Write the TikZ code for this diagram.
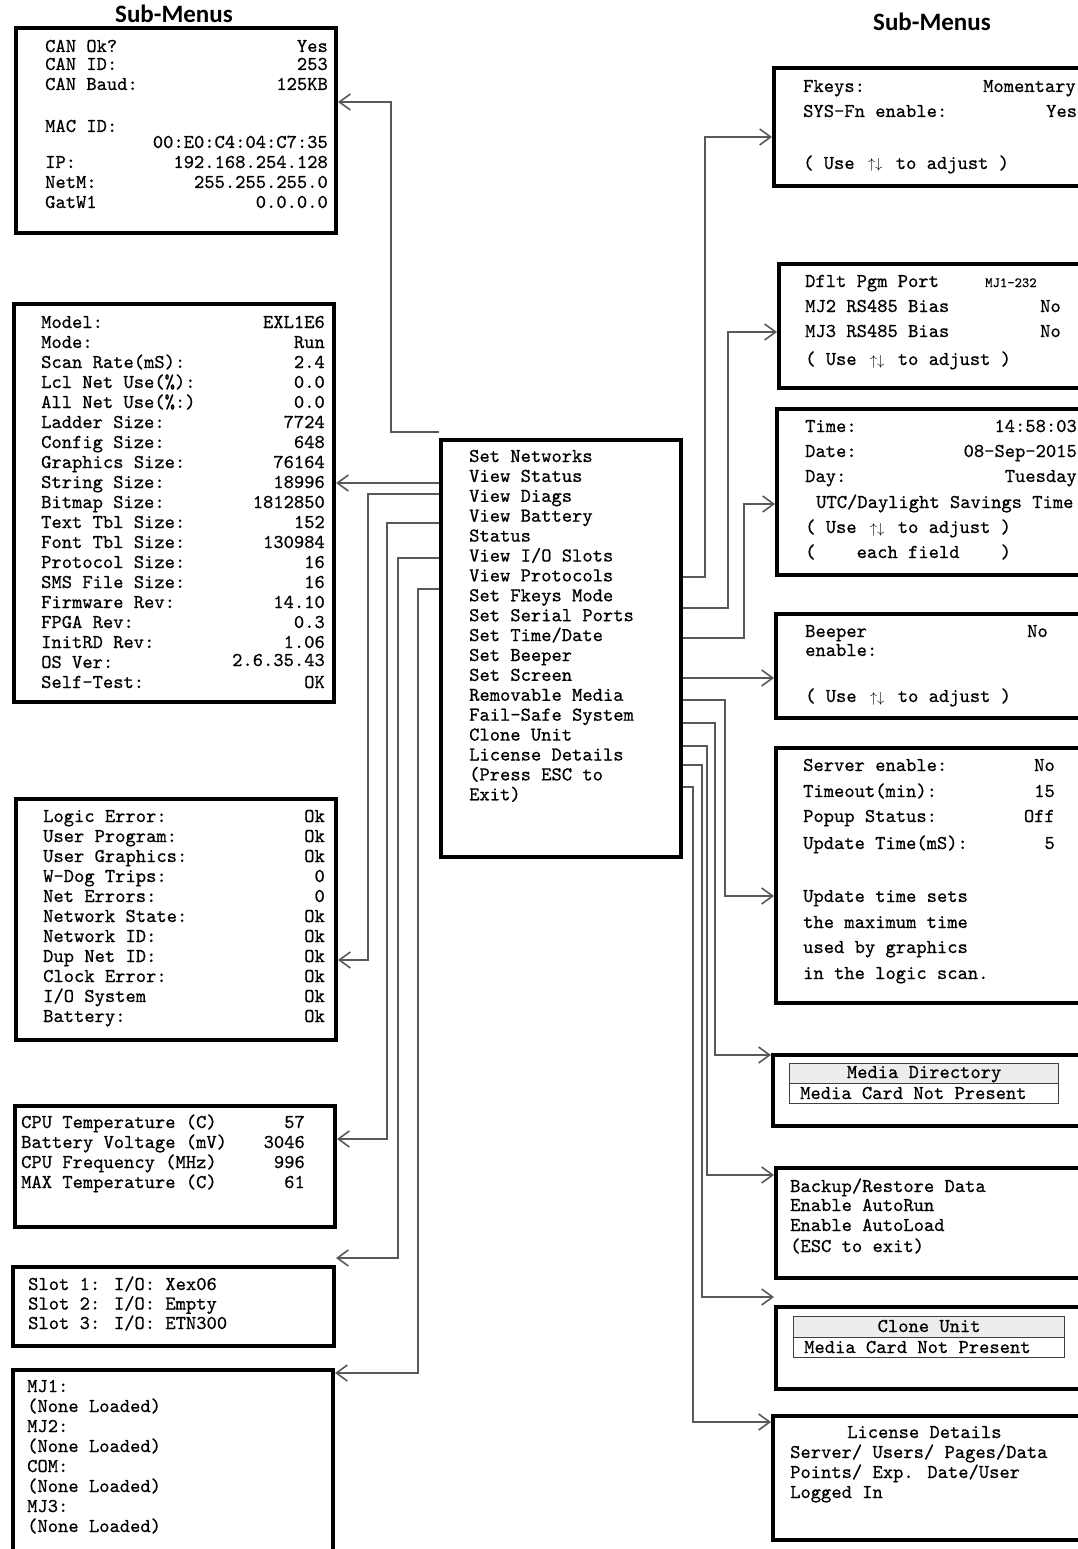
\documentclass[tikz,border=0pt]{standalone}
\usepackage{fontspec}
\usetikzlibrary{arrows.meta}

\newfontfamily\titlefont{Carlito}
\newfontfamily\monofam{lmmono10-regular.otf}[FakeBold=0.6]
\newcommand{\mono}{\monofam\fontsize{19.6}{20}\selectfont}
\newcommand{\updn}{\makebox[1.05em]{\fontsize{15}{15}\selectfont$\uparrow\downarrow$}}

\begin{document}
\begin{tikzpicture}[x=1pt,y=-1pt,
  box/.style={draw, line width=4pt, inner sep=0pt, anchor=north west},
  tbl/.style={draw=black!75, line width=1.2pt, inner sep=0pt, anchor=north west},
  txt/.style={font=\mono, inner sep=0pt, anchor=base west},
  val/.style={font=\mono, inner sep=0pt, anchor=base east},
  title/.style={font=\titlefont\bfseries\fontsize{25}{25}\selectfont, inner sep=0pt, anchor=base},
  conn/.style={draw=black!65, line width=1.6pt, -{Straight Barb[length=11pt,width=16pt]}}]

  \useasboundingbox (0,0) rectangle (1078,1549);
  \clip (0,0) rectangle (1078,1549);

  % titles
  \node[title] (titleL) at (174,23) {Sub-Menus};
  \node[title] (titleR) at (932,31) {Sub-Menus};

  % left sub-menus
  \node[box, minimum width=320, minimum height=205] (canbox) at (14,26) {};
  \node[box, minimum width=320, minimum height=398] (statbox) at (12,302) {};
  \node[box, minimum width=320, minimum height=241] (diagbox) at (14,797) {};
  \node[box, minimum width=320, minimum height=121] (battbox) at (13,1104) {};
  \node[box, minimum width=321, minimum height=79] (slotbox) at (11,1265) {};
  \node[box, minimum width=320, minimum height=200] (protbox) at (11,1368) {};

  % main menu
  \node[box, minimum width=240, minimum height=417] (menu) at (439,438) {};

  % right sub-menus
  \node[box, minimum width=330, minimum height=118] (fkeybox) at (772,66) {};
  \node[box, minimum width=325, minimum height=124] (serbox) at (777,262) {};
  \node[box, minimum width=327, minimum height=166] (timebox) at (775,407) {};
  \node[box, minimum width=326, minimum height=104] (beepbox) at (774,612) {};
  \node[box, minimum width=326, minimum height=255] (scrbox) at (774,746) {};
  \node[box, minimum width=329, minimum height=71] (mediabox) at (771,1053) {};
  \node[box, minimum width=326, minimum height=110] (failbox) at (774,1166) {};
  \node[box, minimum width=326, minimum height=82] (clonebox) at (774,1305) {};
  \node[box, minimum width=329, minimum height=124] (licbox) at (771,1414) {};

  % network settings
  \foreach \lab/\val/\y [count=\i] in {CAN Ok?/Yes/52, CAN ID:/253/70, CAN Baud:/125KB/90,
      MAC ID://132, /00:E0:C4:04:C7:35/148, IP:/192.168.254.128/168,
      NetM:/255.255.255.0/188, GatW1/0.0.0.0/208}
  {
    \node[txt] (can-l\i) at (45,\y) {\lab};
    \node[val] (can-v\i) at (328,\y) {\val};
  }

  % status
  \foreach \lab/\val [count=\i] in {Model:/EXL1E6, Mode:/Run, Scan Rate(mS):/2.4,
      Lcl Net Use(\%):/0.0, All Net Use(\%:)/0.0, Ladder Size:/7724, Config Size:/648,
      Graphics Size:/76164, String Size:/18996, Bitmap Size:/1812850, Text Tbl Size:/152,
      Font Tbl Size:/130984, Protocol Size:/16, SMS File Size:/16, Firmware Rev:/14.10,
      FPGA Rev:/0.3, InitRD Rev:/1.06, OS Ver:/, Self-Test:/OK}
  {
    \node[txt] (stat-l\i) at (41,{308+20*\i}) {\lab};
    \node[val] (stat-v\i) at (325,{308+20*\i}) {\val};
  }
  \node[val] (osver) at (325,666) {2.6.35.43};

  % diagnostics
  \foreach \lab/\val [count=\i] in {Logic Error:/Ok, User Program:/Ok, User Graphics:/Ok,
      W-Dog Trips:/0, Net Errors:/0, Network State:/Ok, Network ID:/Ok, Dup Net ID:/Ok,
      Clock Error:/Ok, {I/O System}/Ok, Battery:/Ok}
  {
    \node[txt] (diag-l\i) at (43,{802+20*\i}) {\lab};
    \node[val] (diag-v\i) at (325,{802+20*\i}) {\val};
  }

  % battery
  \foreach \lab/\val [count=\i] in {CPU Temperature (C)/57, Battery Voltage (mV)/3046,
      CPU Frequency (MHz)/996, MAX Temperature (C)/61}
  {
    \node[txt] (batt-l\i) at (21,{1108+20*\i}) {\lab};
    \node[val] (batt-v\i) at (305,{1108+20*\i}) {\val};
  }

  % i/o slots
  \foreach \lab [count=\i] in {{Slot 1: I/O: Xex06}, {Slot 2: I/O: Empty}, {Slot 3: I/O: ETN300}}
    \node[txt] (slot-\i) at (28,{1270.5+19.5*\i}) {\lab};

  % protocols
  \foreach \lab [count=\i] in {MJ1:, {(None Loaded)}, MJ2:, {(None Loaded)}, COM:,
      {(None Loaded)}, MJ3:, {(None Loaded)}}
    \node[txt] (prot-\i) at (27,{1372+20*\i}) {\lab};

  % main menu items
  \foreach \lab [count=\i] in {Set Networks, View Status, View Diags, View Battery, Status,
      {View I/O Slots}, View Protocols, Set Fkeys Mode, Set Serial Ports, {Set Time/Date},
      Set Beeper, Set Screen, Removable Media, Fail-Safe System, Clone Unit,
      License Details, {(Press ESC to}, {Exit)}}
    \node[txt] (item-\i) at (469,{442.1+19.9*\i}) {\lab};

  % fkeys
  \node[txt] (fk-l1) at (803,92) {Fkeys:};
  \node[txt] (fk-v1) at (983,92) {Momentary};
  \node[txt] (fk-l2) at (803,117) {SYS-Fn enable:};
  \node[txt] (fk-v2) at (1046,117) {Yes};
  \node[txt] (fk-adj) at (803,169) {( Use \updn{} to adjust )};

  % serial ports
  \node[txt] (ser-l1) at (805,287) {Dflt Pgm Port};
  \node[txt, font=\monofam\fontsize{14}{14}\selectfont] (ser-v1) at (985,287) {MJ1-232};
  \node[txt] (ser-l2) at (805,312) {MJ2 RS485 Bias};
  \node[txt] (ser-v2) at (1040,312) {No};
  \node[txt] (ser-l3) at (805,337) {MJ3 RS485 Bias};
  \node[txt] (ser-v3) at (1040,337) {No};
  \node[txt] (ser-adj) at (805,365) {( Use \updn{} to adjust )};

  % time/date
  \node[txt] (time-l1) at (805,432) {Time:};
  \node[val] (time-v1) at (1077,432) {14:58:03};
  \node[txt] (time-l2) at (805,457) {Date:};
  \node[val] (time-v2) at (1077,457) {08-Sep-2015};
  \node[txt] (time-l3) at (805,482) {Day:};
  \node[val] (time-v3) at (1077,482) {Tuesday};
  \node[txt] (time-utc) at (816,508) {UTC/Daylight Savings Time};
  \node[txt] (time-adj) at (805,533) {( Use \updn{} to adjust )};
  \node[txt] (time-fld) at (805,558) {(\ \ \ \ each field\ \ \ \ )};

  % beeper
  \node[txt] (beep-l1) at (805,637) {Beeper};
  \node[txt] (beep-v1) at (1027,637) {No};
  \node[txt] (beep-l2) at (805,656) {enable:};
  \node[txt] (beep-adj) at (805,702) {( Use \updn{} to adjust )};

  % screen
  \foreach \lab/\val/\y [count=\i] in {Server enable:/No/771, Timeout(min):/15/797,
      Popup Status:/Off/822, Update Time(mS):/5/849}
  {
    \node[txt] (scr-l\i) at (803,\y) {\lab};
    \node[val] (scr-v\i) at (1055,\y) {\val};
  }
  \foreach \lab/\y [count=\i] in {Update time sets/902, the maximum time/928,
      used by graphics/953, in the logic scan./979}
    \node[txt] (scr-n\i) at (803,\y) {\lab};

  % removable media
  \node[tbl, fill=black!7, minimum width=269, minimum height=20] (mediahead) at (789,1063) {};
  \node[tbl, minimum width=269, minimum height=20] (mediarow) at (789,1083) {};
  \node[txt, anchor=base] (mediadir) at (mediahead.center |- 0,1078) {Media Directory};
  \node[txt] (medianp) at (800,1099) {Media Card Not Present};

  % fail-safe
  \foreach \lab/\y [count=\i] in {{Backup/Restore Data}/1192, Enable AutoRun/1211,
      Enable AutoLoad/1231, {(ESC to exit)}/1252}
    \node[txt] (fail-\i) at (790,\y) {\lab};

  % clone unit
  \node[tbl, fill=black!7, minimum width=271, minimum height=21] (clonehead) at (793,1316) {};
  \node[tbl, minimum width=271, minimum height=20] (clonerow) at (793,1337) {};
  \node[txt, anchor=base] (clonettl) at (clonehead.center |- 0,1332) {Clone Unit};
  \node[txt] (clonenp) at (804,1353) {Media Card Not Present};

  % license
  \node[txt] (lic-ttl) at (847,1438) {License Details};
  \foreach \lab/\y [count=\i] in {{Server/ Users/ Pages/Data}/1458,
      {Points/ Exp. Date/User}/1478, Logged In/1498}
    \node[txt] (lic-\i) at (790,\y) {\lab};

  % connectors to the left
  \draw[conn] (menu.north west |- 0,432) -- (391,432) |- (canbox.east |- 0,102);
  \draw[conn] (menu.west |- 0,483) -- (statbox.east |- 0,483);
  \draw[conn] (menu.west |- 0,494) -- (368,494) |- (diagbox.east |- 0,960);
  \draw[conn] (menu.west |- 0,523) -- (387,523) |- (battbox.east |- 0,1139);
  \draw[conn] (menu.west |- 0,558) -- (398,558) |- (slotbox.east |- 0,1258);
  \draw[conn] (menu.west |- 0,589) -- (418,589) |- (protbox.east |- 0,1373);

  % connectors to the right
  \draw[conn] (menu.east |- 0,577) -- (705,577) |- (fkeybox.west |- 0,137);
  \draw[conn] (menu.east |- 0,608) -- (728,608) |- (serbox.west |- 0,332);
  \draw[conn] (menu.east |- 0,638) -- (744,638) |- (timebox.west |- 0,504);
  \draw[conn] (menu.east |- 0,678) -- (beepbox.west |- 0,678);
  \draw[conn] (menu.east |- 0,700) -- (725,700) |- (scrbox.west |- 0,896);
  \draw[conn] (menu.east |- 0,723) -- (715,723) |- (mediabox.west |- 0,1055);
  \draw[conn] (menu.east |- 0,746) -- (707,746) |- (failbox.west |- 0,1175);
  \draw[conn] (menu.east |- 0,765) -- (702,765) |- (clonebox.west |- 0,1297);
  \draw[conn] (menu.east |- 0,787) -- (693,787) |- (licbox.west |- 0,1422);
\end{tikzpicture}
\end{document}
